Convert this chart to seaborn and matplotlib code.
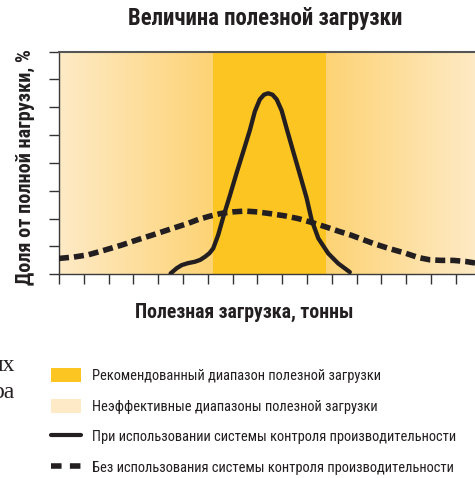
import numpy as np
import pandas as pd
import matplotlib
matplotlib.use("Agg")
import matplotlib.pyplot as plt
from matplotlib.colors import LinearSegmentedColormap
from matplotlib.patches import Patch
from matplotlib.lines import Line2D
import seaborn as sns
import logging

# ---- data ----
title = "Величина полезной загрузки"
ylabel = "Доля от полной нагрузки, %"
xlabel = "Полезная загрузка, тонны"

legend_labels = [
    "Рекомендованный диапазон полезной загрузки",
    "Неэффективные диапазоны полезной загрузки",
    "При использовании системы контроля производительности",
    "Без использования системы контроля производительности",
]
stray_text = ["их", "ра"]

band_lo, band_hi = 6.2, 10.75
x_max, y_max = 16.9, 8
x_ticks = list(range(0, 17))
y_ticks = list(range(0, 9))

with_x = [4.50, 4.75, 4.95, 5.2, 5.48, 5.7, 5.89, 6.07, 6.22, 6.42, 6.63, 6.90,
          7.16, 7.43, 7.70, 7.90, 8.10, 8.27, 8.44, 8.61, 8.78, 8.98, 9.18, 9.45,
          9.72, 9.99, 10.19, 10.46, 10.86, 11.26, 11.73]
with_y = [0.03, 0.22, 0.33, 0.40, 0.45, 0.52, 0.63, 0.76, 0.93, 1.41, 2.07, 2.85,
          3.63, 4.40, 5.18, 5.85, 6.28, 6.45, 6.50, 6.45, 6.28, 5.88, 5.24, 4.40,
          3.57, 2.73, 1.95, 1.29, 0.75, 0.39, 0.08]

without_x = [0, 0.6, 1.18, 1.85, 2.53, 3.2, 3.87, 4.55, 5.21, 5.62, 6.09, 6.56,
             7.0, 7.5, 8.0, 8.58, 9.1, 9.65, 10.2, 10.73, 11.3, 11.8, 12.67,
             13.3, 14.0, 14.5, 14.96, 15.4, 15.9, 16.4, 16.9]
without_y = [0.57, 0.62, 0.70, 0.87, 1.05, 1.25, 1.44, 1.64, 1.83, 1.97, 2.09, 2.19,
             2.24, 2.27, 2.24, 2.17, 2.10, 2.00, 1.86, 1.71, 1.54, 1.40, 1.11,
             0.93, 0.75, 0.60, 0.52, 0.50, 0.50, 0.46, 0.39]

# ---- style ----
sns.set_theme(style="white")
plt.rcParams["font.family"] = ["Roboto Condensed", "Archivo Narrow",
                               "IBM Plex Sans Condensed", "Fira Sans Condensed",
                               "DejaVu Sans"]
logging.getLogger("matplotlib.font_manager").setLevel(logging.ERROR)

light = "#FEEAC6"
mid = "#FDD375"
band = "#FDC522"
ink = "#231F20"

W, H = 475, 478
fig = plt.figure(figsize=(W / 100, H / 100), dpi=100)
ax = fig.add_axes([59 / W, 1 - 274.3 / H, (478 - 59) / W, (274.3 - 51.5) / H])

# background
cmap_l = LinearSegmentedColormap.from_list("l", [light, mid])
cmap_r = LinearSegmentedColormap.from_list("r", [mid, light])
grad = np.linspace(0, 1, 256).reshape(1, -1)
ax.imshow(grad, extent=(0, band_lo, 0, y_max), aspect="auto", cmap=cmap_l, zorder=0)
ax.imshow(grad, extent=(band_hi, x_max, 0, y_max), aspect="auto", cmap=cmap_r, zorder=0)
ax.axvspan(band_lo, band_hi, color=band, lw=0, zorder=0)

df_with = pd.DataFrame({"x": with_x, "y": with_y})
df_without = pd.DataFrame({"x": without_x, "y": without_y})
sns.lineplot(data=df_without, x="x", y="y", ax=ax, color=ink, lw=4.0,
             sort=False, zorder=3)
dl = ax.lines[-1]
dl.set_dashes((1.8, 0.9))
dl.set_dash_capstyle("butt")
sns.lineplot(data=df_with, x="x", y="y", ax=ax, color=ink, lw=3.1,
             sort=False, zorder=4)
sl = ax.lines[-1]
sl.set_solid_joinstyle("round")
sl.set_solid_capstyle("round")

ax.set_xlim(0, x_max)
ax.set_ylim(0, y_max)
ax.set_xticks(x_ticks)
ax.set_yticks(y_ticks)
ax.set_xticklabels([])
ax.set_yticklabels([])
ax.tick_params(axis="both", direction="out", length=7.2, width=1.0, color="#333333",
               bottom=True, left=True)
for s in ["left", "bottom", "top"]:
    ax.spines[s].set_visible(True)
    ax.spines[s].set_color("#3a3a3a")
    ax.spines[s].set_linewidth(1.0)
ax.spines["top"].set_linewidth(1.5)
ax.spines["top"].set_color("#555555")
ax.spines["right"].set_visible(False)
ax.set_xlabel("")
ax.set_ylabel("")

t_title = fig.text(265 / W, 1 - 19 / H, title, ha="center", va="center",
                   fontsize=13.5, fontweight="bold", color=ink)
t_y = fig.text(25 / W, 1 - 167 / H, ylabel, ha="center", va="center", rotation=90,
               fontsize=13, fontweight="bold", color=ink)
t_x = fig.text(244 / W, 1 - 312 / H, xlabel, ha="center", va="center",
               fontsize=13, fontweight="bold", color=ink)

# stray cropped text from the page (partly cut by the left edge, as in the source)
for txt, yb in zip(stray_text, [371, 398]):
    fig.text(15 / W, 1 - yb / H, txt, ha="right", va="baseline", fontsize=17,
             family="Liberation Serif", color=ink)

renderer = fig.canvas.get_renderer()


def fit(t, target, vertical=False):
    for _ in range(3):
        bb = t.get_window_extent(renderer)
        cur = bb.height if vertical else bb.width
        t.set_fontsize(t.get_fontsize() * target / cur)


fit(t_title, 275)
fit(t_y, 235, vertical=True)
fit(t_x, 218)

handles = [
    Patch(facecolor=band, edgecolor="none"),
    Patch(facecolor=light, edgecolor="none"),
    Line2D([], [], color=ink, lw=3.0),
    Line2D([], [], color=ink, lw=4.0, dashes=(1.9, 1.5), dash_capstyle="butt"),
]

# legend font size so the longest label spans ~371 px
probe = fig.text(0, 0, legend_labels[2], fontsize=11)
fit(probe, 371)
fs = probe.get_fontsize()
probe.remove()
fpx = fs * 100 / 72

anchor = [51 / W, 1 - 366 / H]
ls = 1.0
leg = None
for it in range(4):
    if leg is not None:
        leg.remove()
    leg = fig.legend(handles, legend_labels, loc="upper left",
                     bbox_to_anchor=tuple(anchor), frameon=False,
                     fontsize=fs, handlelength=30 / fpx, handleheight=16 / fpx,
                     handletextpad=11 / fpx, labelspacing=ls, borderpad=0,
                     borderaxespad=0)
    fig.canvas.draw()
    texts = leg.get_texts()
    bbs = [t.get_window_extent(renderer) for t in texts]
    centers = [H - (b.y0 + b.y1) / 2 for b in bbs]
    pitch = (centers[-1] - centers[0]) / 3
    ls = ls + (30.7 - pitch) / fpx
    dx = 92 - bbs[0].x0
    dy = 376 - centers[0]
    anchor = [anchor[0] + dx / W, anchor[1] - dy / H]

for t in leg.get_texts():
    t.set_color(ink)

fig.savefig("out.png", dpi=100)
